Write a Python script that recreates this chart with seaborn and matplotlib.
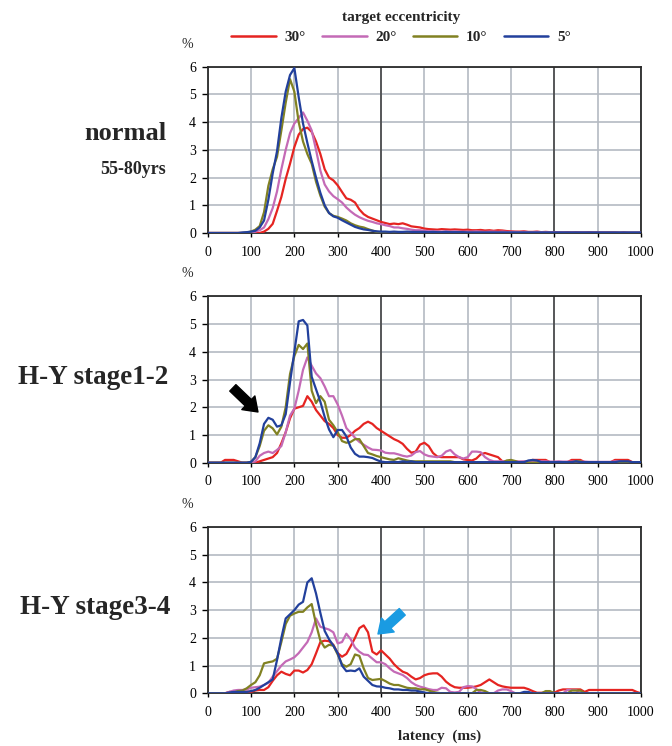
import matplotlib
matplotlib.use("Agg")
import matplotlib.pyplot as plt
import numpy as np
import pandas as pd
import seaborn as sns
from matplotlib.lines import Line2D

# ---------------- data ----------------
LATENCY = list(range(0, 1001, 10))          # ms
ECC = ["30°", "20°", "10°", "5°"]
COLORS = ["#e52421", "#c46ab6", "#818122", "#22409c"]
X_TICKS = [0, 100, 200, 300, 400, 500, 600, 700, 800, 900, 1000]
Y_TICKS = [0, 1, 2, 3, 4, 5, 6]
PANEL_TITLES = ["normal", "H-Y stage1-2", "H-Y stage3-4"]

# normal 55-80yrs
N_30 = [0, 0, 0, 0, 0, 0, 0, 0, 0, 0,
        0, 0, 0, 0.05, 0.15, 0.33, 0.8, 1.3, 1.95, 2.5,
        3.1, 3.55, 3.75, 3.8, 3.65, 3.3, 2.85, 2.3, 2.0, 1.9,
        1.72, 1.48, 1.25, 1.2, 1.1, 0.85, 0.68, 0.58, 0.52, 0.46,
        0.4, 0.36, 0.32, 0.34, 0.32, 0.35, 0.3, 0.24, 0.22, 0.2,
        0.16, 0.14, 0.13, 0.12, 0.14, 0.13, 0.12, 0.13, 0.12, 0.11,
        0.12, 0.1, 0.1, 0.11, 0.09, 0.1, 0.08, 0.1, 0.09, 0.07,
        0.06, 0.05, 0.05, 0.06, 0.04, 0.04, 0.05, 0.03, 0.04, 0.03,
        0.03, 0.03, 0.02, 0.03, 0.02, 0.03, 0.02, 0.02, 0.03, 0.02,
        0.02, 0.02, 0.02, 0.02, 0.02, 0.01, 0.02, 0.01, 0.01, 0.01,
        0.01]
N_20 = [0, 0, 0, 0, 0, 0, 0, 0, 0, 0,
        0, 0.05, 0.1, 0.2, 0.5, 0.9, 1.5, 2.3, 3.0, 3.6,
        3.95, 4.15, 4.35, 4.05, 3.7, 3.0, 2.25, 1.75, 1.5, 1.33,
        1.22, 1.1, 0.92, 0.78, 0.66, 0.57, 0.5, 0.44, 0.4, 0.35,
        0.32, 0.28, 0.25, 0.2, 0.2, 0.17, 0.15, 0.12, 0.1, 0.1,
        0.08, 0.07, 0.06, 0.06, 0.05, 0.06, 0.05, 0.06, 0.05, 0.05,
        0.05, 0.05, 0.06, 0.05, 0.04, 0.05, 0.05, 0.04, 0.05, 0.04,
        0.04, 0.04, 0.03, 0.04, 0.03, 0.03, 0.04, 0.03, 0.03, 0.03,
        0.02, 0.03, 0.02, 0.02, 0.02, 0.02, 0.02, 0.02, 0.02, 0.02,
        0.01, 0.02, 0.01, 0.01, 0.01, 0.01, 0.01, 0.01, 0.01, 0.01,
        0.01]
N_10 = [0, 0, 0, 0, 0, 0, 0, 0, 0, 0.02,
        0.05, 0.12, 0.25, 0.75, 1.7, 2.3, 2.75, 3.7, 4.7, 5.55,
        5.1, 4.0, 3.3, 2.85, 2.5, 1.85, 1.35, 0.95, 0.72, 0.62,
        0.58, 0.52, 0.45, 0.35, 0.28, 0.23, 0.2, 0.14, 0.09, 0.04,
        0.02, 0, 0, 0, 0, 0, 0, 0, 0, 0,
        0, 0, 0, 0, 0, 0, 0, 0, 0, 0,
        0, 0, 0, 0, 0, 0, 0, 0, 0, 0,
        0, 0, 0, 0, 0, 0, 0, 0, 0, 0,
        0, 0, 0, 0, 0, 0, 0, 0, 0, 0,
        0, 0, 0, 0, 0, 0, 0, 0, 0, 0,
        0]
N_5 = [0, 0, 0, 0, 0, 0, 0, 0, 0.02, 0.03,
       0.05, 0.08, 0.2, 0.45, 1.2, 2.15, 2.95, 4.15, 5.1, 5.7,
       5.95, 4.9, 3.95, 3.25, 2.6, 2.0, 1.45, 1.0, 0.72, 0.6,
       0.55, 0.46, 0.38, 0.3, 0.22, 0.17, 0.13, 0.11, 0.08, 0.06,
       0.05, 0.05, 0.04, 0.05, 0.04, 0.04, 0.05, 0.04, 0.04, 0.04,
       0.04, 0.03, 0.04, 0.03, 0.03, 0.04, 0.03, 0.03, 0.03, 0.03,
       0.02, 0.02, 0.02, 0.02, 0.02, 0.02, 0.02, 0.02, 0.02, 0.02,
       0.02, 0.02, 0.02, 0.02, 0.02, 0.02, 0.02, 0.02, 0.02, 0.02,
       0.02, 0.02, 0.02, 0.02, 0.02, 0.02, 0.02, 0.02, 0.02, 0.02,
       0.02, 0.02, 0.02, 0.02, 0.02, 0.02, 0.02, 0.02, 0.02, 0.02,
       0.02]

# H-Y stage 1-2
H12_30 = [0, 0, 0, 0, 0.1, 0.1, 0.1, 0.05, 0, 0,
          0, 0, 0.05, 0.1, 0.15, 0.2, 0.35, 0.7, 1.1, 1.6,
          1.95, 2.0, 2.05, 2.4, 2.2, 1.9, 1.7, 1.5, 1.4, 1.25,
          1.0, 0.9, 0.9, 1.0, 1.15, 1.25, 1.4, 1.48, 1.4, 1.25,
          1.15, 1.05, 0.95, 0.85, 0.78, 0.68, 0.5, 0.36, 0.4, 0.65,
          0.72, 0.6, 0.35, 0.22, 0.2, 0.2, 0.2, 0.2, 0.2, 0.12,
          0.1, 0.08, 0.15, 0.3, 0.35, 0.3, 0.25, 0.2, 0.05, 0.03,
          0.03, 0.03, 0.03, 0.03, 0.03, 0.1, 0.1, 0.1, 0.1, 0.02,
          0.02, 0.02, 0.02, 0.02, 0.1, 0.1, 0.1, 0.02, 0.02, 0.02,
          0.02, 0.02, 0.02, 0.02, 0.1, 0.1, 0.1, 0.1, 0.02, 0,
          0]
H12_20 = [0, 0, 0, 0, 0, 0, 0, 0, 0, 0,
          0, 0.05, 0.25, 0.35, 0.4, 0.35, 0.46, 0.6, 1.1, 1.7,
          1.95, 2.6, 3.35, 3.8, 3.5, 3.22, 3.05, 2.75, 2.4, 2.4,
          2.1, 1.7, 1.25, 1.08, 0.9, 0.75, 0.65, 0.55, 0.47, 0.46,
          0.44, 0.36, 0.34, 0.34, 0.3, 0.25, 0.22, 0.26, 0.38, 0.42,
          0.3, 0.24, 0.22, 0.2, 0.25, 0.4, 0.46, 0.3, 0.2, 0.15,
          0.2, 0.4, 0.4, 0.38, 0.2, 0.1, 0.05, 0.05, 0.05, 0.05,
          0.05, 0.05, 0.04, 0.05, 0.05, 0.05, 0.04, 0.05, 0.05, 0.04,
          0.04, 0.05, 0.04, 0.04, 0.04, 0.05, 0.04, 0.04, 0.03, 0.03,
          0.03, 0.03, 0.03, 0.03, 0.05, 0.05, 0.03, 0.03, 0.02, 0.02,
          0.02]
H12_10 = [0, 0, 0, 0, 0, 0, 0, 0, 0, 0,
          0.03, 0.2, 0.6, 1.15, 1.35, 1.24, 1.02, 1.3, 2.0, 3.2,
          3.85, 4.25, 4.1, 4.3, 2.6, 2.15, 2.4, 2.2, 1.55, 1.35,
          1.1, 0.78, 0.72, 0.75, 0.85, 0.85, 0.6, 0.35, 0.3, 0.24,
          0.2, 0.16, 0.12, 0.1, 0.16, 0.12, 0.08, 0.05, 0.05, 0.05,
          0.05, 0.05, 0.05, 0.05, 0.05, 0.05, 0.05, 0.02, 0, 0,
          0, 0, 0, 0, 0, 0, 0, 0, 0, 0.08,
          0.1, 0.06, 0, 0, 0, 0, 0, 0, 0, 0,
          0, 0, 0, 0, 0, 0.05, 0.05, 0, 0, 0,
          0, 0, 0, 0, 0, 0, 0, 0, 0, 0,
          0]
H12_5 = [0, 0, 0, 0, 0, 0, 0, 0, 0, 0,
         0.03, 0.2, 0.7, 1.4, 1.62, 1.55, 1.3, 1.35, 1.75, 2.9,
         4.0, 5.1, 5.15, 4.95, 3.1, 2.65, 2.2, 1.65, 1.2, 0.92,
         1.18, 1.18, 0.95, 0.55, 0.32, 0.22, 0.22, 0.2, 0.17, 0.1,
         0.04, 0.02, 0.02, 0.03, 0.02, 0.05, 0.03, 0.05, 0.02, 0.02,
         0.02, 0.02, 0.02, 0.02, 0.02, 0.02, 0.02, 0.02, 0.02, 0.02,
         0.02, 0.02, 0.02, 0.02, 0.02, 0.02, 0.02, 0.02, 0.02, 0.02,
         0.02, 0.02, 0.02, 0.02, 0.08, 0.1, 0.08, 0.02, 0.02, 0.02,
         0.02, 0.02, 0.02, 0.02, 0.02, 0.05, 0.02, 0.02, 0.02, 0.02,
         0.02, 0.02, 0.02, 0.02, 0.02, 0.05, 0.05, 0.05, 0.02, 0.02,
         0.02]

# H-Y stage 3-4
H34_30 = [0, 0, 0, 0, 0, 0.05, 0.05, 0.05, 0.06, 0.06,
          0.05, 0.1, 0.12, 0.12, 0.22, 0.45, 0.65, 0.78, 0.7, 0.65,
          0.82, 0.82, 0.75, 0.84, 1.05, 1.44, 1.85, 1.9, 1.88, 1.75,
          1.45, 1.32, 1.42, 1.7, 2.0, 2.35, 2.45, 2.2, 1.5, 1.4,
          1.55, 1.4, 1.25, 1.05, 0.9, 0.78, 0.72, 0.6, 0.5, 0.55,
          0.65, 0.7, 0.72, 0.72, 0.6, 0.42, 0.3, 0.22, 0.2, 0.2,
          0.2, 0.22, 0.25, 0.3, 0.4, 0.5, 0.4, 0.3, 0.25, 0.22,
          0.2, 0.2, 0.2, 0.2, 0.15, 0.08, 0.02, 0.02, 0.02, 0.02,
          0.02, 0.1, 0.14, 0.14, 0.14, 0.14, 0.14, 0.05, 0.12, 0.12,
          0.12, 0.12, 0.12, 0.12, 0.12, 0.12, 0.12, 0.12, 0.12, 0.05,
          0]
H34_20 = [0, 0, 0, 0, 0, 0.05, 0.1, 0.12, 0.12, 0.14,
          0.2, 0.22, 0.24, 0.3, 0.38, 0.6, 0.8, 1.0, 1.15, 1.22,
          1.3, 1.45, 1.65, 1.85, 2.2, 2.7, 2.4, 2.35, 2.3, 2.2,
          1.8, 1.85, 2.15, 1.95, 1.65, 1.5, 1.4, 1.38, 1.25, 1.12,
          1.12, 1.05, 0.9, 0.78, 0.72, 0.66, 0.55, 0.4, 0.3, 0.24,
          0.2, 0.15, 0.12, 0.12, 0.2, 0.18, 0.05, 0.03, 0.05, 0.22,
          0.26, 0.25, 0.15, 0.03, 0, 0, 0, 0.1, 0.14, 0.14,
          0.08, 0, 0, 0, 0, 0, 0, 0, 0, 0,
          0, 0, 0, 0.12, 0.12, 0.12, 0, 0, 0, 0,
          0, 0, 0, 0, 0, 0, 0, 0, 0, 0,
          0]
H34_10 = [0, 0, 0, 0, 0, 0, 0.03, 0.08, 0.1, 0.18,
          0.3, 0.4, 0.65, 1.08, 1.12, 1.15, 1.25, 1.85, 2.5, 2.8,
          2.88, 2.94, 2.94, 3.1, 3.22, 2.5, 1.9, 1.65, 1.75, 1.72,
          1.4, 1.05, 0.96, 1.05, 1.4, 1.35, 0.9, 0.55, 0.48, 0.5,
          0.52, 0.44, 0.35, 0.3, 0.3, 0.25, 0.2, 0.18, 0.18, 0.14,
          0.15, 0.1, 0.05, 0.02, 0, 0, 0, 0, 0, 0,
          0, 0, 0.12, 0.12, 0.08, 0, 0, 0, 0, 0,
          0, 0, 0, 0, 0, 0, 0, 0, 0.08, 0.08,
          0, 0, 0, 0, 0.1, 0.1, 0.1, 0, 0, 0,
          0, 0, 0, 0, 0, 0, 0, 0, 0, 0,
          0]
H34_5 = [0, 0, 0, 0, 0, 0.03, 0.05, 0.05, 0.05, 0.05,
         0.08, 0.12, 0.2, 0.3, 0.4, 0.5, 1.2, 2.0, 2.7, 2.85,
         3.0, 3.2, 3.3, 4.0, 4.15, 3.6, 2.9, 2.25, 1.95, 1.72,
         1.45, 1.0, 0.8, 0.82, 0.8, 0.9, 0.6, 0.45, 0.3, 0.25,
         0.24, 0.2, 0.18, 0.14, 0.14, 0.12, 0.12, 0.1, 0.1, 0.06,
         0.03, 0, 0, 0, 0, 0, 0, 0, 0, 0,
         0, 0, 0, 0, 0, 0, 0, 0, 0, 0,
         0, 0, 0, 0.05, 0.05, 0, 0, 0, 0, 0,
         0, 0, 0, 0, 0, 0, 0, 0, 0, 0,
         0, 0, 0, 0, 0, 0, 0, 0, 0, 0,
         0]

PANELS = [
    [N_30, N_20, N_10, N_5],
    [H12_30, H12_20, H12_10, H12_5],
    [H34_30, H34_20, H34_10, H34_5],
]

# ---------------- style ----------------
sns.set_style("white")
plt.rcParams["font.family"] = ["Liberation Serif", "DejaVu Serif"]
plt.rcParams["axes.unicode_minus"] = False

fig = plt.figure(figsize=(6.72, 7.46), dpi=100)

AX_LEFT, AX_W, AX_H = 207.7 / 672, 433.3 / 672, 166.3 / 746
AX_BOTTOMS = [1 - 233.0 / 746, 1 - 462.7 / 746, 1 - 693.3 / 746]

palette = dict(zip(ECC, COLORS))
axes = []
for i, series in enumerate(PANELS):
    ax = fig.add_axes([AX_LEFT, AX_BOTTOMS[i], AX_W, AX_H])
    axes.append(ax)
    df = pd.DataFrame({
        "latency": LATENCY * len(ECC),
        "pct": np.concatenate(series),
        "ecc": np.repeat(ECC, len(LATENCY)),
    })
    ax.set_xlim(0, 1000)
    ax.set_ylim(0, 6)
    ax.set_xticks(X_TICKS)
    ax.set_yticks(Y_TICKS)
    ax.grid(True, color="#b4bac2", lw=1.2)
    ax.set_axisbelow(True)
    for xv in (400, 800):
        ax.axvline(xv, color="#3a3a3a", lw=1.1, zorder=1)
    sns.lineplot(data=df, x="latency", y="pct", hue="ecc", hue_order=ECC,
                 palette=palette, estimator=None, legend=False, lw=1.6,
                 ax=ax, zorder=3)
    ax.set_xlabel("")
    ax.set_ylabel("")
    for sp in ax.spines.values():
        sp.set_visible(True)
        sp.set_color("#2a2a2a")
        sp.set_linewidth(1.3)
    ax.tick_params(axis="x", direction="out", length=3, width=1, pad=6,
                   labelsize=10, bottom=True, colors="black")
    ax.tick_params(axis="y", direction="out", length=4.5, width=1, pad=4,
                   labelsize=10, left=True, colors="black")
    ax.text(-0.048, 1.135, "%", transform=ax.transAxes, ha="center",
            va="center", fontsize=10)

axes[2].set_xlabel("latency  (ms)", fontsize=11, fontweight="bold")
axes[2].xaxis.set_label_coords(0.536, -0.215)

# panel labels
fig.text(166 / 672, 1 - 133 / 746, PANEL_TITLES[0], ha="right", va="center",
         fontsize=19, fontweight="bold")
fig.text(166 / 672, 1 - 170 / 746, "55-80yrs", ha="right", va="center",
         fontsize=13, fontweight="bold")
fig.text(168 / 672, 1 - 377 / 746, PANEL_TITLES[1], ha="right", va="center",
         fontsize=19.5, fontweight="bold")
fig.text(170 / 672, 1 - 607 / 746, PANEL_TITLES[2], ha="right", va="center",
         fontsize=19.5, fontweight="bold")

# arrows
ARROW = "simple,head_length=0.6,head_width=0.85,tail_width=0.4"
axes[1].annotate("", xy=(116, 1.83), xytext=(58, 2.7),
                 arrowprops=dict(arrowstyle=ARROW, color="black",
                                 mutation_scale=16, shrinkA=0, shrinkB=0))
axes[2].annotate("", xy=(393, 2.14), xytext=(449, 2.94),
                 arrowprops=dict(arrowstyle=ARROW, color="#1a9be2",
                                 mutation_scale=16, shrinkA=0, shrinkB=0))

# legend
handles = [Line2D([0], [0], color=c, lw=1.8) for c in COLORS]
leg = fig.legend(handles, ECC, ncol=4, loc="upper center",
                 bbox_to_anchor=(401 / 672, 1 - 9 / 746), frameon=False,
                 title="target eccentricity",
                 title_fontproperties={"weight": "bold", "size": 11},
                 prop={"weight": "bold", "size": 11},
                 handlelength=2.9, handletextpad=0.55, columnspacing=1.1,
                 borderaxespad=0, borderpad=0.1, labelspacing=0.45)

fig.savefig("out.png", dpi=100)
